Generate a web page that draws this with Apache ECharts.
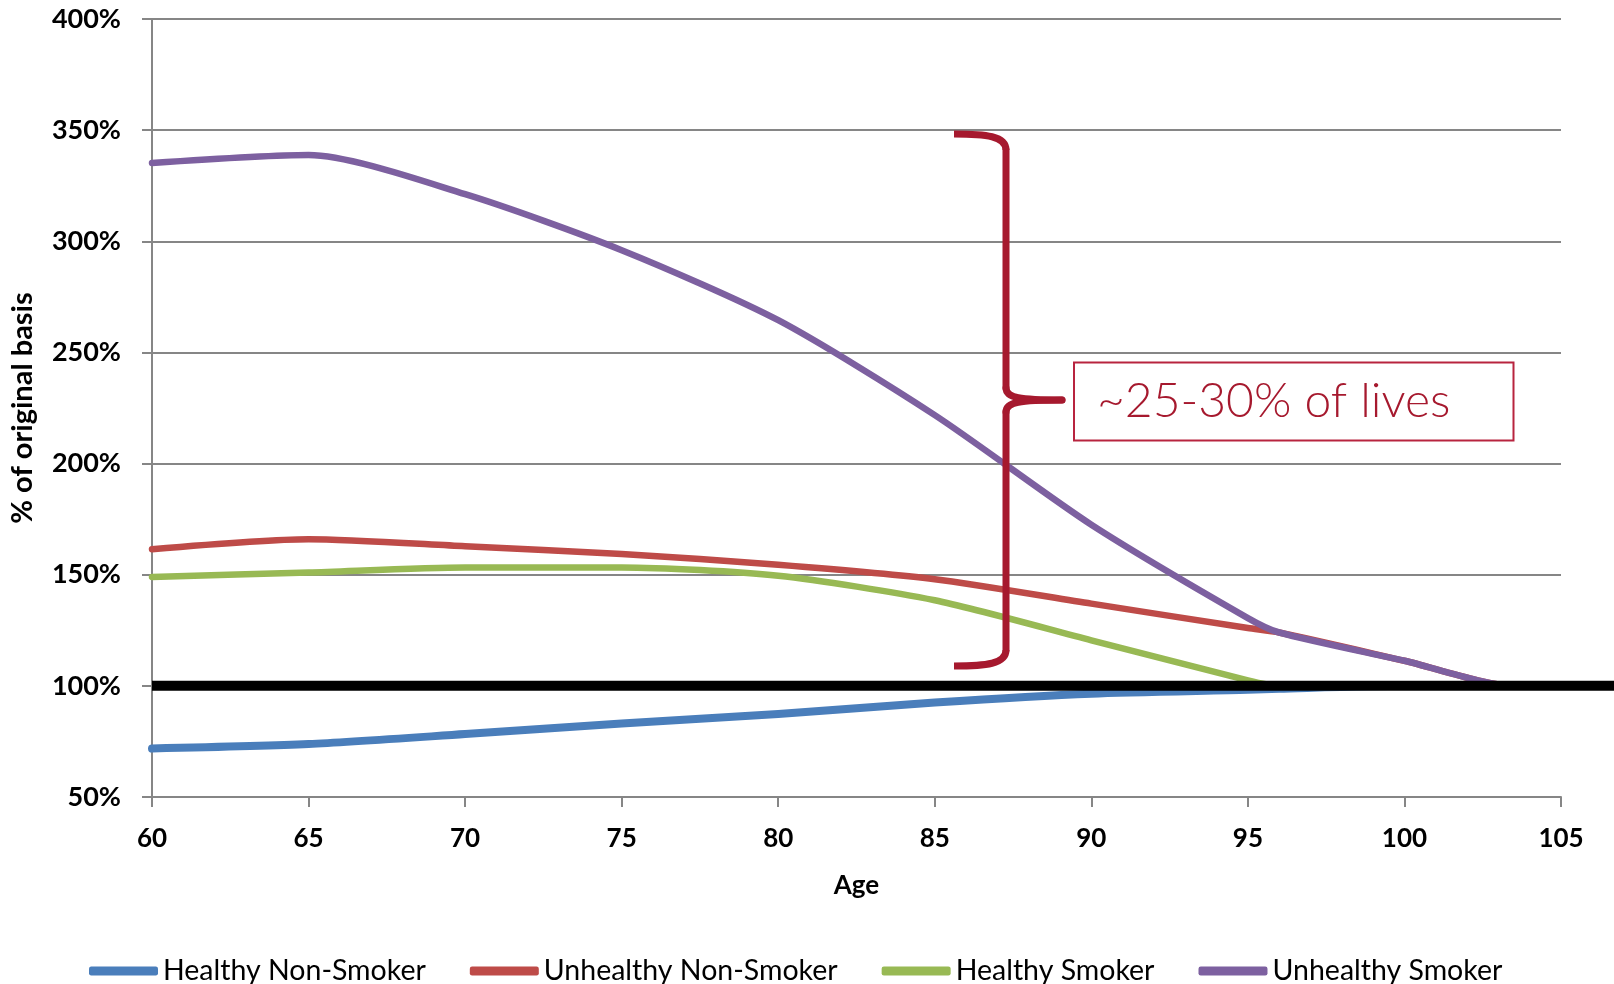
<!DOCTYPE html>
<html>
<head>
<meta charset="utf-8">
<script src="https://cdn.jsdelivr.net/npm/echarts@6/dist/echarts.min.js"></script>
<style>
  html, body { margin: 0; padding: 0; background: #ffffff; }
  #chart { width: 1614px; height: 984px; }
</style>
</head>
<body>
<div id="chart"></div>
<script>
// Ages at which each mortality-basis curve is sampled
const ages = [60, 65, 70, 75, 80, 85, 90, 95, 96, 100, 103.5, 105];

// Mortality as % of the original basis, per risk group
const healthyNonSmoker   = [71.8, 73.8, 78.3, 83.1, 87.3, 92.5, 96.5, 98.2, 98.7, 100, 100, 100];
const unhealthyNonSmoker = [161.5, 166.0, 162.8, 159.3, 154.5, 148.0, 137.0, 126.0, 124.0, 111.3, 100, 100];
const healthySmoker      = [149.0, 151.0, 153.3, 153.3, 149.5, 138.5, 120.5, 102.5, 100, 100, 100, 100];
const unhealthySmoker    = [335.2, 338.8, 321.2, 296.0, 264.5, 221.8, 172.5, 130.5, 124.0, 111.3, 100, 100];

// The 100% reference line runs on past age 105 to the right edge of the page
const baselineAges   = [60, 106.69];
const baselineValues = [100, 100];

const seriesNames  = ['Healthy Non-Smoker', 'Unhealthy Non-Smoker', 'Healthy Smoker', 'Unhealthy Smoker'];
const seriesValues = [healthyNonSmoker, unhealthyNonSmoker, healthySmoker, unhealthySmoker];
const seriesColors = ['#4A7EBB', '#BE4B48', '#98B954', '#7D60A0'];
const seriesWidths = [8, 6.5, 6.5, 6.5];

const annotationText = '~25-30% of lives';

const zip = (xs, ys) => xs.map((x, i) => [x, ys[i]]);

const gridColor = '#868686';
const font = 'Lato, "Open Sans", sans-serif';
const accent = '#A6192E';

const chart = echarts.init(document.getElementById('chart'), null, { renderer: 'canvas' });

const lineSeries = seriesNames.map((name, i) => ({
  name: name,
  type: 'line',
  xAxisIndex: 0,
  yAxisIndex: 0,
  data: zip(ages, seriesValues[i]),
  showSymbol: false,
  symbol: 'none',
  smooth: 0.25,
  lineStyle: { width: seriesWidths[i], color: seriesColors[i], cap: 'round', join: 'round' },
  itemStyle: { color: seriesColors[i] },
  z: 3 + i,
  silent: true
}));

// Baseline sits on a second, borderless grid that reaches the page edge
lineSeries.push({
  name: 'Original basis',
  type: 'line',
  xAxisIndex: 1,
  yAxisIndex: 1,
  data: zip(baselineAges, baselineValues),
  showSymbol: false,
  symbol: 'none',
  lineStyle: { width: 10, color: '#000000', cap: 'butt' },
  itemStyle: { color: '#000000' },
  z: 10,
  silent: true
});

// Curly brace beside the curves, built from straight and curved strokes
const bx = 1006, bTop = 134, bBottom = 666, bMid = 400, bTip = 1062, bLeft = 954;
const braceStyle = (cap) => ({ stroke: accent, lineWidth: 7, fill: null, lineCap: cap });
const braceParts = [
  { type: 'bezierCurve', shape: { x1: bLeft, y1: bTop, cpx1: bLeft + 32, cpy1: bTop, cpx2: bx, cpy2: bTop + 2, x2: bx, y2: bTop + 16 }, style: braceStyle('butt') },
  { type: 'line', shape: { x1: bx, y1: bTop + 16, x2: bx, y2: bMid - 12 }, style: braceStyle('round') },
  { type: 'bezierCurve', shape: { x1: bx, y1: bMid - 12, cpx1: bx, cpy1: bMid - 2, cpx2: bx + 14, cpy2: bMid, x2: bTip, y2: bMid }, style: braceStyle('round') },
  { type: 'bezierCurve', shape: { x1: bTip, y1: bMid, cpx1: bx + 14, cpy1: bMid, cpx2: bx, cpy2: bMid + 2, x2: bx, y2: bMid + 12 }, style: braceStyle('round') },
  { type: 'line', shape: { x1: bx, y1: bMid + 12, x2: bx, y2: bBottom - 16 }, style: braceStyle('round') },
  { type: 'bezierCurve', shape: { x1: bx, y1: bBottom - 16, cpx1: bx, cpy1: bBottom - 2, cpx2: bLeft + 32, cpy2: bBottom, x2: bLeft, y2: bBottom }, style: braceStyle('butt') }
].map(p => Object.assign({ z: 100, silent: true }, p));

const hiddenAxis = {
  show: false,
  axisLine: { show: false },
  axisTick: { show: false },
  axisLabel: { show: false },
  splitLine: { show: false }
};

const option = {
  animation: false,
  backgroundColor: '#ffffff',
  grid: [
    { left: 152, right: 53, top: 19, bottom: 187, containLabel: false },
    { left: 152, right: 0, top: 19, bottom: 187, containLabel: false }
  ],
  legend: {
    data: seriesNames,
    left: 89,
    top: 956,
    padding: 0,
    itemWidth: 69,
    itemHeight: 9,
    itemGap: 44,
    icon: 'roundRect',
    textStyle: { fontFamily: font, fontSize: 28.5, color: '#000000', lineHeight: 30 },
    selectedMode: false
  },
  xAxis: [
    {
      type: 'value',
      gridIndex: 0,
      min: 60,
      max: 105,
      interval: 5,
      name: 'Age',
      nameLocation: 'middle',
      nameGap: 76,
      nameTextStyle: { fontFamily: font, fontSize: 26, fontWeight: 'bold', color: '#000000' },
      axisLine: { show: true, lineStyle: { color: gridColor, width: 2 } },
      axisTick: { show: true, length: 10, lineStyle: { color: gridColor, width: 2 } },
      axisLabel: { margin: 29, fontFamily: font, fontSize: 26, fontWeight: 'bold', color: '#000000' },
      splitLine: { show: false }
    },
    Object.assign({ type: 'value', gridIndex: 1, min: baselineAges[0], max: baselineAges[1] }, hiddenAxis)
  ],
  yAxis: [
    {
      type: 'value',
      gridIndex: 0,
      min: 50,
      max: 400,
      interval: 50,
      name: '% of original basis',
      nameLocation: 'middle',
      nameGap: 115,
      nameTextStyle: { fontFamily: font, fontSize: 29, fontWeight: 'bold', color: '#000000' },
      axisLine: { show: true, lineStyle: { color: gridColor, width: 2 } },
      axisTick: { show: true, length: 10, lineStyle: { color: gridColor, width: 2 } },
      axisLabel: {
        margin: 31,
        fontFamily: font,
        fontSize: 27,
        fontWeight: 'bold',
        color: '#000000',
        formatter: v => v + '%'
      },
      splitLine: { show: true, lineStyle: { color: gridColor, width: 2 } }
    },
    Object.assign({ type: 'value', gridIndex: 1, min: 50, max: 400 }, hiddenAxis)
  ],
  series: lineSeries,
  graphic: braceParts.concat([
    {
      type: 'rect',
      z: 100,
      shape: { x: 1074, y: 362.5, width: 439.5, height: 78 },
      style: { stroke: '#B8243F', lineWidth: 2, fill: '#ffffff' },
      silent: true
    },
    {
      type: 'text',
      z: 101,
      x: 1097,
      y: 402,
      style: {
        text: annotationText,
        fontFamily: font,
        fontSize: 48,
        fontWeight: 300,
        fill: accent,
        align: 'left',
        verticalAlign: 'middle'
      },
      silent: true
    }
  ])
};

chart.setOption(option);
</script>
</body>
</html>
